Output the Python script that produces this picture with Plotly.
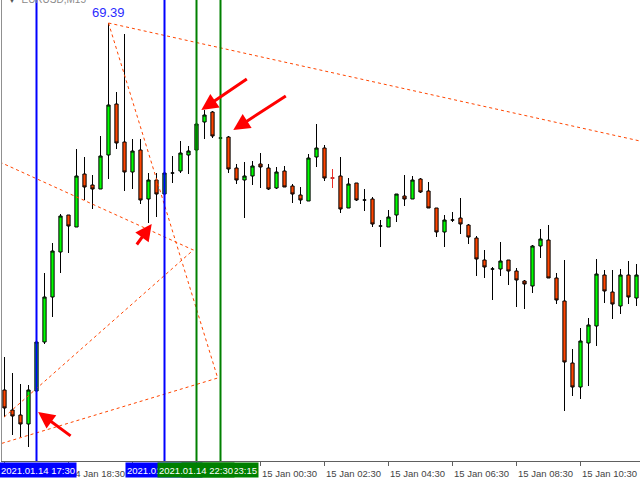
import plotly.graph_objects as go

# EURUSD M15, bars numbered from 14 Jan 16:30
bar_no = list(range(80))

open_ = [1.21310, 1.21290, 1.21285, 1.21276, 1.21309, 1.21358, 1.21403, 1.21448, 1.21485, 1.21473,
         1.21526, 1.21515, 1.21511, 1.21545, 1.21596, 1.21558, 1.21528, 1.21550, 1.21501, 1.21520,
         1.21506, 1.21527, 1.21529, 1.21545, 1.21550, 1.21578, 1.21588, 1.21562, 1.21563, 1.21532,
         1.21520, 1.21524, 1.21536, 1.21532, 1.21512, 1.21529, 1.21514, 1.21505, 1.21499, 1.21543,
         1.21552, 1.21522, 1.21524, 1.21492, 1.21517, 1.21500, 1.21501, 1.21474, 1.21473, 1.21485,
         1.21504, 1.21501, 1.21521, 1.21509, 1.21492, 1.21468, 1.21480, 1.21482, 1.21475, 1.21462,
         1.21440, 1.21431, 1.21431, 1.21440, 1.21429, 1.21419, 1.21414, 1.21454, 1.21460, 1.21422,
         1.21399, 1.21337, 1.21313, 1.21357, 1.21374, 1.21425, 1.21408, 1.21394, 1.21425, 1.21402]
high = [1.21343, 1.21327, 1.21316, 1.21315, 1.21359, 1.21427, 1.21457, 1.21486, 1.21485, 1.21551,
        1.21543, 1.21525, 1.21564, 1.21677, 1.21608, 1.21666, 1.21561, 1.21561, 1.21527, 1.21527,
        1.21528, 1.21544, 1.21559, 1.21554, 1.21578, 1.21590, 1.21589, 1.21562, 1.21564, 1.21536,
        1.21538, 1.21539, 1.21547, 1.21536, 1.21533, 1.21534, 1.21516, 1.21513, 1.21546, 1.21576,
        1.21555, 1.21531, 1.21543, 1.21522, 1.21517, 1.21511, 1.21503, 1.21480, 1.21490, 1.21506,
        1.21525, 1.21524, 1.21522, 1.21518, 1.21492, 1.21485, 1.21488, 1.21502, 1.21476, 1.21464,
        1.21450, 1.21433, 1.21458, 1.21440, 1.21432, 1.21420, 1.21455, 1.21471, 1.21475, 1.21427,
        1.21440, 1.21351, 1.21372, 1.21382, 1.21441, 1.21430, 1.21430, 1.21431, 1.21439, 1.21436]
low = [1.21283, 1.21265, 1.21263, 1.21253, 1.21308, 1.21356, 1.21383, 1.21427, 1.21447, 1.21473,
       1.21500, 1.21491, 1.21511, 1.21521, 1.21551, 1.21509, 1.21511, 1.21496, 1.21477, 1.21483,
       1.21505, 1.21517, 1.21527, 1.21526, 1.21548, 1.21561, 1.21562, 1.21562, 1.21527, 1.21516,
       1.21482, 1.21515, 1.21512, 1.21510, 1.21511, 1.21513, 1.21497, 1.21496, 1.21499, 1.21533,
       1.21519, 1.21512, 1.21487, 1.21492, 1.21499, 1.21489, 1.21473, 1.21453, 1.21473, 1.21478,
       1.21494, 1.21501, 1.21507, 1.21492, 1.21463, 1.21453, 1.21478, 1.21466, 1.21456, 1.21424,
       1.21422, 1.21400, 1.21424, 1.21415, 1.21393, 1.21391, 1.21407, 1.21442, 1.21422, 1.21396,
       1.21289, 1.21304, 1.21301, 1.21314, 1.21354, 1.21397, 1.21381, 1.21386, 1.21396, 1.21394]
close = [1.21292, 1.21284, 1.21276, 1.21310, 1.21358, 1.21403, 1.21449, 1.21484, 1.21474, 1.21524,
         1.21513, 1.21511, 1.21544, 1.21595, 1.21557, 1.21528, 1.21549, 1.21500, 1.21520, 1.21506,
         1.21527, 1.21527, 1.21547, 1.21549, 1.21576, 1.21585, 1.21564, 1.21562, 1.21531, 1.21520,
         1.21524, 1.21534, 1.21533, 1.21511, 1.21528, 1.21513, 1.21506, 1.21500, 1.21542, 1.21552,
         1.21522, 1.21522, 1.21491, 1.21516, 1.21500, 1.21500, 1.21476, 1.21474, 1.21483, 1.21506,
         1.21501, 1.21520, 1.21508, 1.21492, 1.21468, 1.21480, 1.21480, 1.21476, 1.21463, 1.21441,
         1.21433, 1.21431, 1.21439, 1.21429, 1.21420, 1.21416, 1.21454, 1.21461, 1.21422, 1.21400,
         1.21338, 1.21313, 1.21359, 1.21375, 1.21426, 1.21409, 1.21396, 1.21425, 1.21403, 1.21425]

# the one doji drawn in red
red_bar = 41

tick_bars = [0, 8, 16, 24, 32, 40, 48, 56, 64, 72]
tick_text = ["14 Jan 16:30", "14 Jan 18:30", "14 Jan 20:30", "14 Jan 22:30", "15 Jan 00:30",
             "15 Jan 02:30", "15 Jan 04:30", "15 Jan 06:30", "15 Jan 08:30", "15 Jan 10:30"]

# vertical time markers (bar, colour, label), drawing order
markers = [(4, "#0000FF", "2021.01.14 17:30"),
           (20, "#0000FF", "2021.01.14 21:30"),
           (27, "#008000", "2021.01.14 23:15"),
           (24, "#008000", "2021.01.14 22:30")]

# dotted trend lines (bar, price)
trend_lines = [
    ([13, 80], [1.21677, 1.21558]),
    ([13, 26.65, -0.6], [1.21677, 1.21322, 1.21256]),
    ([-0.6, 23.6, -0.6], [1.21538, 1.21450, 1.21279]),
]

peak_bar, peak_price, peak_text = 13, 1.21677, "69.39"

# red arrows: head (bar, price), tail offset in px
arrows = [(4.2, 1.21288, 34, 25),
          (18.4, 1.21476, -16, 22),
          (24.6, 1.21590, 47, -32),
          (28.6, 1.21570, 54, -35)]

fig = go.Figure()

for xs, ys in trend_lines:
    fig.add_trace(go.Scatter(
        x=xs, y=ys, mode="lines",
        line=dict(color="#FF4500", width=1, dash="3px,3px"),
        hoverinfo="skip", showlegend=False
    ))

fig.add_trace(go.Candlestick(
    x=bar_no, open=open_, high=high, low=low, close=close,
    increasing=dict(line=dict(color="black", width=1), fillcolor="#00FF00"),
    decreasing=dict(line=dict(color="black", width=1), fillcolor="#FF4500"),
    showlegend=False
))

fig.add_trace(go.Candlestick(
    x=[red_bar], open=[open_[red_bar]], high=[high[red_bar]],
    low=[low[red_bar]], close=[close[red_bar]],
    increasing=dict(line=dict(color="#E8302A", width=1), fillcolor="#E8302A"),
    decreasing=dict(line=dict(color="#E8302A", width=1), fillcolor="#E8302A"),
    showlegend=False
))

for bar, color, _ in markers:
    fig.add_shape(type="line", xref="x", yref="paper", x0=bar, x1=bar, y0=0, y1=1,
                  line=dict(color=color, width=2), layer="above")

annotations = []
for bar, color, label in markers:
    annotations.append(dict(
        x=bar, y=0, xref="x", yref="paper", yanchor="top", xanchor="center",
        xshift=1.5 if bar == 4 else -1, yshift=-1,
        text=label, showarrow=False, bgcolor=color, width=76, height=14, borderpad=0,
        font=dict(family="Liberation Sans", size=9.5, color="white")
    ))

for hx, hy, ax, ay in arrows:
    annotations.append(dict(
        x=hx, y=hy, xref="x", yref="y", ax=ax, ay=ay, text="",
        showarrow=True, arrowhead=2, arrowsize=1.1, arrowwidth=3, arrowcolor="#FF0000"
    ))

annotations.append(dict(
    x=peak_bar, y=peak_price, xref="x", yref="y", yanchor="bottom", yshift=1,
    text=peak_text, showarrow=False,
    font=dict(family="Liberation Sans", size=13, color="#2B2BFF")
))

annotations.append(dict(
    x=0.006, y=1, xref="paper", yref="paper", xanchor="left", yanchor="bottom", yshift=-7,
    text="<span style='color:#555555;font-size:8px'>▼</span>  EURUSD,M15", showarrow=False,
    font=dict(family="Liberation Sans", size=10, color="#8A8A8A")
))

fig.update_layout(
    width=640, height=480,
    margin=dict(l=2, r=0, t=0, b=19),
    paper_bgcolor="white", plot_bgcolor="white",
    boxgap=0.42,
    showlegend=False,
    annotations=annotations,
    xaxis=dict(
        range=[-0.3125, 79.4375], rangeslider=dict(visible=False),
        showgrid=False, zeroline=False, automargin=False,
        showline=True, linecolor="#606060", linewidth=1,
        tickmode="array", tickvals=tick_bars, ticktext=tick_text,
        ticks="outside", ticklen=4, tickcolor="#606060",
        ticklabelshift=29, ticklabelstandoff=0,
        tickfont=dict(family="Liberation Sans", size=9.5, color="#444444")
    ),
    yaxis=dict(
        range=[1.21239, 1.21700], showgrid=False, zeroline=False, automargin=False,
        showticklabels=False, ticks="",
        showline=True, linecolor="#909090", linewidth=1
    )
)

fig.write_html("out.html", config={"displayModeBar": False},
               post_script="document.body.style.margin='0';")
